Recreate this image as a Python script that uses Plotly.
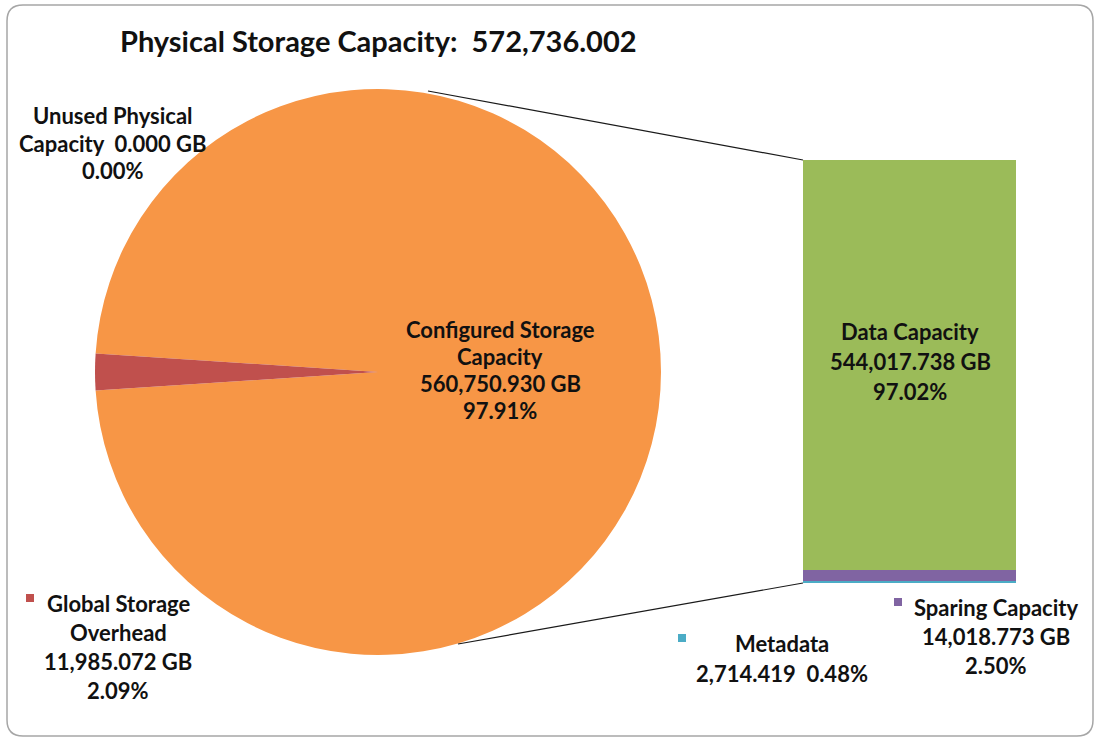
import plotly.graph_objects as go

# Physical storage breakdown (GB)
pie_labels = ["Configured Storage Capacity", "Global Storage Overhead", "Unused Physical Capacity"]
pie_values = [560750.930, 11985.072, 0.000]
pie_colors = ["#F79646", "#C0504D", "#9BBB59"]

# Breakdown of the configured storage capacity (GB), bottom to top
bar_labels = ["Metadata", "Sparing Capacity", "Data Capacity"]
bar_values = [2714.419, 14018.773, 544017.738]
bar_colors = ["#4BACC6", "#8064A2", "#9BBB59"]

W, H = 1097, 740
FONT = "Lato"
INK = "#111111"

total = sum(pie_values)
configured = pie_values[0]


def px(x):
    return x / W


def py(y):
    return (H - y) / H


def gb(v):
    return f"{v:,.3f} GB"


def pct(v, whole):
    return f"{v / whole * 100:.2f}%"


fig = go.Figure()

# Pie: configured slice centred on the right side, overhead on the left
cx, cy, r = 378, 372, 283
fig.add_trace(go.Pie(
    labels=pie_labels,
    values=pie_values,
    marker=dict(colors=pie_colors, line=dict(width=0)),
    sort=False,
    direction="clockwise",
    rotation=90 - pie_values[0] / total * 180,
    textinfo="none",
    hoverinfo="label+value+percent",
    showlegend=False,
    domain=dict(x=[px(cx - r), px(cx + r)], y=[py(cy + r), py(cy - r)]),
))

# Stacked bar for the configured capacity
for lab, val, col in zip(bar_labels, bar_values, bar_colors):
    fig.add_trace(go.Bar(
        x=[0], y=[val], name=lab,
        marker=dict(color=col, line=dict(width=0)),
        width=1, showlegend=False,
        xaxis="x", yaxis="y",
    ))

bx0, bx1, by0, by1 = 803, 1016, 583, 160
fig.update_layout(
    barmode="stack",
    width=W, height=H,
    margin=dict(l=0, r=0, t=0, b=0),
    paper_bgcolor="white",
    plot_bgcolor="rgba(0,0,0,0)",
    xaxis=dict(domain=[px(bx0), px(bx1)], range=[-0.5, 0.5], visible=False, fixedrange=True),
    yaxis=dict(domain=[py(by0), py(by1)], range=[0, sum(bar_values)], visible=False, fixedrange=True),
    font=dict(family=FONT, color=INK),
)

shapes = []
# Connector lines from the pie to the bar
for (x0, y0), (x1, y1) in [((428, 91), (bx0, by1)), ((458, 644), (bx0, by0))]:
    shapes.append(dict(type="line", xref="paper", yref="paper",
                       x0=px(x0), y0=py(y0), x1=px(x1), y1=py(y1),
                       line=dict(color="#1a1a1a", width=1.2)))

# Rounded chart border
L, T, R, B, k = 7, 5, 1093, 736, 16
path = (f"M {px(L + k)},{py(T)} L {px(R - k)},{py(T)} Q {px(R)},{py(T)} {px(R)},{py(T + k)} "
        f"L {px(R)},{py(B - k)} Q {px(R)},{py(B)} {px(R - k)},{py(B)} "
        f"L {px(L + k)},{py(B)} Q {px(L)},{py(B)} {px(L)},{py(B - k)} "
        f"L {px(L)},{py(T + k)} Q {px(L)},{py(T)} {px(L + k)},{py(T)} Z")
shapes.append(dict(type="path", xref="paper", yref="paper", path=path,
                   line=dict(color="#a6a6a6", width=1.5)))

# Legend-key squares next to outside labels
for (sx, sy), col in [((30, 598), pie_colors[1]), ((898, 602), bar_colors[1]), ((682, 638), bar_colors[0])]:
    shapes.append(dict(type="rect", xref="paper", yref="paper",
                       x0=px(sx - 4), x1=px(sx + 4), y0=py(sy + 4), y1=py(sy - 4),
                       fillcolor=col, line=dict(width=0)))

fig.update_layout(shapes=shapes)


def label(lines, x, y, ls=28, size=22):
    n = len(lines)
    for i, t in enumerate(lines):
        yy = y + (i - (n - 1) / 2) * ls
        fig.add_annotation(text=f"<b>{t}</b>", x=px(x), y=py(yy), xref="paper", yref="paper",
                           showarrow=False, xanchor="center", yanchor="middle",
                           font=dict(family=FONT, size=size, color=INK))


fig.add_annotation(text=f"<b>Physical Storage Capacity:  {total:,.3f}</b>",
                   x=px(378), y=py(40), xref="paper", yref="paper", showarrow=False,
                   xanchor="center", yanchor="middle",
                   font=dict(family=FONT, size=29, color=INK))

label(["Configured Storage", "Capacity", gb(pie_values[0]), pct(pie_values[0], total)], 500, 370, ls=27)
label(["Unused Physical", f"Capacity  {gb(pie_values[2])}", pct(pie_values[2], total)], 113, 143, ls=27.5)
label(["Global Storage", "Overhead", gb(pie_values[1]), pct(pie_values[1], total)], 118, 647, ls=29)
label(["Data Capacity", gb(bar_values[2]), pct(bar_values[2], configured)], 910, 361, ls=30)
label(["Sparing Capacity", gb(bar_values[1]), pct(bar_values[1], configured)], 996, 636, ls=29)
label(["Metadata", f"{bar_values[0]:,.3f}  {pct(bar_values[0], configured)}"], 782, 658, ls=30)

fig.write_html("out.html")
